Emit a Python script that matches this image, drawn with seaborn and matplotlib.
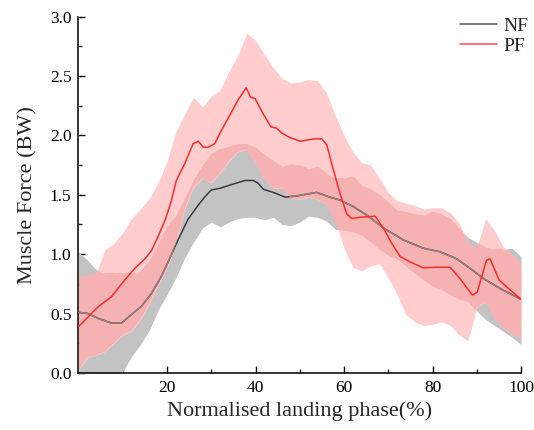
import numpy as np
import pandas as pd
import matplotlib
matplotlib.use("Agg")
import matplotlib.pyplot as plt
from matplotlib.lines import Line2D
import seaborn as sns

# Landing phase grid (%) shared by the ±SD bands
phase = [0, 2, 4, 6, 8, 10, 12, 14, 16, 18, 20, 22, 24, 26, 28, 30, 32, 34, 36, 38,
         40, 42, 44, 46, 48, 50, 52, 54, 56, 58, 60, 62, 64, 66, 68, 70, 72, 74, 76, 78,
         80, 82, 84, 86, 88, 90, 92, 94, 96, 98, 100]

# NF: mean ± SD band (BW)
nf_upper = [1.02, 0.95, 0.87, 0.84, 0.84, 0.84, 0.84, 0.86, 0.95, 1.09, 1.24, 1.33, 1.47,
            1.63, 1.75, 1.85, 1.89, 1.91, 1.93, 1.93, 1.90, 1.84, 1.79, 1.74, 1.76, 1.75,
            1.72, 1.74, 1.68, 1.64, 1.64, 1.66, 1.58, 1.55, 1.50, 1.44, 1.37, 1.36, 1.34,
            1.33, 1.36, 1.34, 1.30, 1.22, 1.14, 1.10, 1.06, 1.04, 1.04, 1.05, 0.98]
nf_lower = [-0.02, 0.00, 0.00, -0.02, -0.02, 0.01, 0.14, 0.24, 0.36, 0.53, 0.66, 0.80, 0.97,
            1.10, 1.22, 1.27, 1.23, 1.27, 1.30, 1.31, 1.31, 1.29, 1.31, 1.25, 1.24, 1.27,
            1.32, 1.31, 1.28, 1.21, 1.20, 1.19, 1.16, 1.10, 1.04, 0.99, 0.96, 0.90, 0.84,
            0.78, 0.73, 0.70, 0.66, 0.62, 0.60, 0.52, 0.45, 0.40, 0.35, 0.30, 0.24]

# PF: mean ± SD band (BW)
pf_upper = [0.80, 0.82, 0.84, 1.04, 1.09, 1.18, 1.30, 1.38, 1.47, 1.60, 1.78, 2.03, 2.18,
            2.32, 2.24, 2.33, 2.38, 2.54, 2.67, 2.86, 2.80, 2.68, 2.57, 2.48, 2.44, 2.45,
            2.47, 2.46, 2.36, 2.17, 2.00, 1.86, 1.77, 1.75, 1.64, 1.52, 1.45, 1.43, 1.41,
            1.38, 1.39, 1.39, 1.35, 1.26, 1.10, 1.05, 1.30, 1.20, 1.06, 1.00, 0.92]
pf_lower = [0.02, 0.13, 0.15, 0.18, 0.25, 0.32, 0.35, 0.45, 0.58, 0.74, 0.88, 1.08, 1.38,
            1.56, 1.64, 1.60, 1.68, 1.78, 1.86, 1.88, 1.77, 1.63, 1.55, 1.56, 1.47, 1.46,
            1.48, 1.46, 1.42, 1.28, 1.05, 0.89, 0.86, 0.90, 0.92, 0.80, 0.66, 0.49, 0.43,
            0.40, 0.41, 0.43, 0.40, 0.32, 0.27, 0.55, 0.60, 0.46, 0.38, 0.33, 0.29]

# Mean curves
nf_phase = [0, 2.2, 4.4, 7.4, 9.7, 11.9, 14.2, 16.5, 18.7, 20.2, 22.5, 24.7, 27, 28.5, 30,
            32, 35, 37.6, 39.5, 40.5, 41.8, 44, 46.7, 49.3, 53.8, 56.8, 59.1, 62.1, 65.1,
            68.9, 73.4, 77.9, 81.7, 85.5, 88.5, 91.5, 95.3, 100]
nf_mean = [0.51, 0.50, 0.46, 0.42, 0.42, 0.49, 0.56, 0.67, 0.81, 0.93, 1.12, 1.29, 1.41,
           1.48, 1.54, 1.555, 1.59, 1.62, 1.62, 1.60, 1.545, 1.52, 1.48, 1.49, 1.52, 1.48,
           1.455, 1.40, 1.33, 1.22, 1.12, 1.05, 1.02, 0.96, 0.88, 0.795, 0.71, 0.62]

pf_phase = [0, 4.4, 7.4, 10.4, 12.7, 15, 16.5, 18, 19.6, 21, 22.1, 24, 25.9, 27.1, 28.2,
            29.3, 30.8, 32, 34.2, 36.1, 37.9, 38.9, 39.9, 41.6, 43.5, 44.8, 45.9, 47.8,
            50.1, 53.1, 55, 56.1, 57.6, 59.1, 60.6, 61.7, 63.6, 67, 68.9, 70.8, 72.7, 74.9,
            77.9, 80.9, 84, 86.2, 89, 90.1, 92.2, 93, 95.1, 97.5, 100]
pf_mean = [0.39, 0.556, 0.64, 0.78, 0.88, 0.96, 1.03, 1.15, 1.29, 1.45, 1.62, 1.76, 1.93,
           1.95, 1.90, 1.90, 1.93, 2.02, 2.17, 2.30, 2.40, 2.32, 2.31, 2.19, 2.07, 2.06,
           2.02, 1.98, 1.95, 1.97, 1.97, 1.92, 1.71, 1.51, 1.34, 1.30, 1.31, 1.32, 1.22,
           1.09, 0.98, 0.935, 0.885, 0.89, 0.89, 0.795, 0.655, 0.68, 0.95, 0.96, 0.78,
           0.70, 0.62]

x_major = [20, 40, 60, 80, 100]
x_minor = [10, 30, 50, 70, 90]
y_major = [0.0, 0.5, 1.0, 1.5, 2.0, 2.5, 3.0]
y_minor = [0.25, 0.75, 1.25, 1.75, 2.25, 2.75]

GRAY = "#c3c3c3"
PINK_LIGHT = "#ffcdcd"
PINK_DARK = "#f6b2b2"
NF_COLOR = "#3c3c3c"
NF_UNDER_PINK = "#a07c7c"
PF_COLOR = "#ff2a2a"

sns.set_style("ticks")
plt.rcParams["font.family"] = ["Liberation Serif", "DejaVu Serif"]

fig = plt.figure(figsize=(5.34, 4.30), dpi=100)
ax = fig.add_axes([0.147, 0.1326, 0.8287, 0.829])

x = np.asarray(phase, dtype=float)

# NF band, then PF band on top; the NF band is redrawn in a deeper pink inside the PF band
ax.fill_between(x, nf_lower, nf_upper, color=GRAY, linewidth=0, zorder=1)
pf_band = ax.fill_between(x, pf_lower, pf_upper, color=PINK_LIGHT, linewidth=0, zorder=2)
pf_path = pf_band.get_paths()[0]
overlap = ax.fill_between(x, nf_lower, nf_upper, color=PINK_DARK, linewidth=0, zorder=3)
overlap.set_clip_path(pf_path, transform=ax.transData)

nf_df = pd.DataFrame({"phase": nf_phase, "force": nf_mean})
pf_df = pd.DataFrame({"phase": pf_phase, "force": pf_mean})

sns.lineplot(data=nf_df, x="phase", y="force", ax=ax, color=NF_COLOR, linewidth=1.1,
             zorder=4, sort=False)
sns.lineplot(data=nf_df, x="phase", y="force", ax=ax, color=NF_UNDER_PINK, linewidth=1.1,
             zorder=5, sort=False)
ax.lines[-1].set_clip_path(pf_path, transform=ax.transData)
sns.lineplot(data=pf_df, x="phase", y="force", ax=ax, color=PF_COLOR, linewidth=1.1,
             zorder=6, sort=False)

ax.set_xlim(0, 100)
ax.set_ylim(0, 3.0)
ax.set_xticks(x_major)
ax.set_xticks(x_minor, minor=True)
ax.set_yticks(y_major)
ax.set_yticklabels([f"{v:.1f}" for v in y_major])
ax.set_yticks(y_minor, minor=True)
ax.tick_params(which="major", direction="in", length=4.8, width=1.0, labelsize=12.5,
               colors="black", pad=5)
ax.tick_params(which="minor", direction="in", length=2.6, width=1.0)
for side in ("top", "right"):
    ax.spines[side].set_visible(False)
for side in ("left", "bottom"):
    ax.spines[side].set_linewidth(1.1)
    ax.spines[side].set_color("black")

ax.set_xlabel("Normalised landing phase(%)", fontsize=16, labelpad=4)
ax.set_ylabel("Muscle Force (BW)", fontsize=16, labelpad=9)

handles = [Line2D([0], [0], color="#555555", linewidth=1.1),
           Line2D([0], [0], color="#ff4d4d", linewidth=1.1)]
ax.legend(handles, ["NF", "PF"], loc="upper right", bbox_to_anchor=(1.035, 1.02),
          frameon=False, fontsize=14, handlelength=1.9, handletextpad=0.35,
          labelspacing=0.12, borderaxespad=0)

fig.savefig("out.png", dpi=100)
